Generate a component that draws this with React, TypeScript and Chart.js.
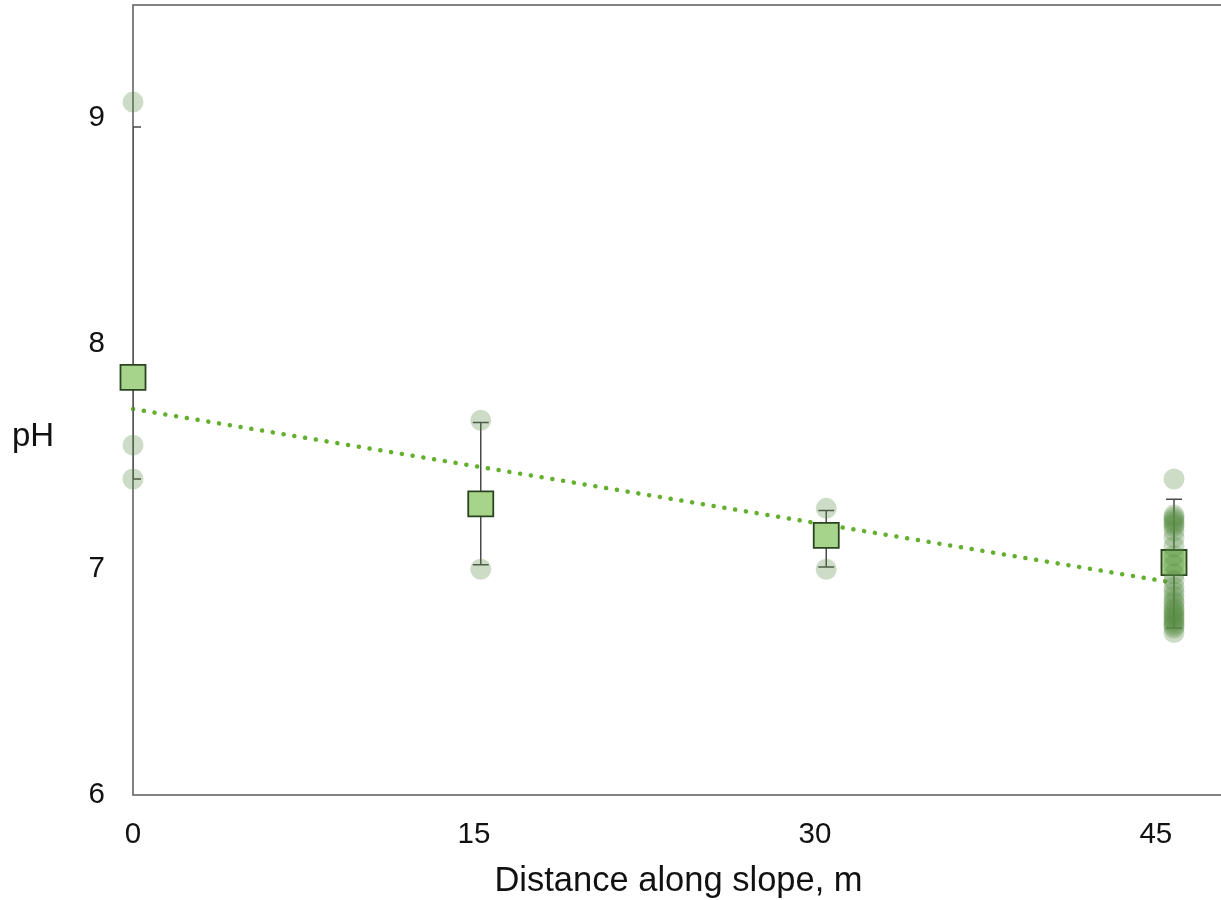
import React, { useEffect, useRef } from "react";
import { Chart, registerables } from "chart.js";

Chart.register(...registerables);

const xTicks = [0, 15, 30, 45];
const yTicks = [6, 7, 8, 9];
const groupX = [0, 15.3, 30.5, 45.8];
const groupMean = [7.85, 7.29, 7.15, 7.03];
const errLow = [7.4, 7.02, 7.01, 6.74];
const errHigh = [8.96, 7.65, 7.26, 7.31];
const raw0 = [9.07, 7.55, 7.4];
const raw15 = [7.66, 7.0];
const raw30 = [7.27, 7.0];
const raw45 = [
  7.4, 7.24, 7.23, 7.22, 7.21, 7.2, 7.19, 7.17, 7.14, 7.1, 7.06, 7.02, 6.98, 6.95, 6.92, 6.9, 6.88, 6.86,
  6.85, 6.83, 6.82, 6.81, 6.8, 6.79, 6.78, 6.77, 6.76, 6.75, 6.74, 6.72,
];
const trendX = [0, 45.8];
const trendY = [7.71, 6.94];
const xTitle = "Distance along slope, m";
const yTitle = "pH";

const FONT = "'Liberation Sans', Arial, Helvetica, sans-serif";

export default function App() {
  const ref = useRef<HTMLCanvasElement | null>(null);
  useEffect(() => {
    if (!ref.current) return;
    const rawGroups = [raw0, raw15, raw30, raw45];
    const rawPts: { x: number; y: number }[] = [];
    rawGroups.forEach((g, i) => g.forEach((v) => rawPts.push({ x: groupX[i], y: v })));

    const deco = {
      id: "deco",
      beforeDatasetDraw(chart: any, args: any) {
        if (args.index !== 2) return;
        const { ctx, chartArea, scales } = chart;
        ctx.save();
        ctx.beginPath();
        ctx.rect(chartArea.left, chartArea.top, chartArea.right - chartArea.left, chartArea.bottom - chartArea.top);
        ctx.clip();
        ctx.strokeStyle = "#4a4a4a";
        ctx.lineWidth = 1.5;
        groupX.forEach((gx, i) => {
          const px = scales.x.getPixelForValue(gx);
          const lo = scales.y.getPixelForValue(errLow[i]);
          const hi = scales.y.getPixelForValue(errHigh[i]);
          ctx.beginPath();
          ctx.moveTo(px, lo);
          ctx.lineTo(px, hi);
          ctx.moveTo(px - 8, lo);
          ctx.lineTo(px + 8, lo);
          ctx.moveTo(px - 8, hi);
          ctx.lineTo(px + 8, hi);
          ctx.stroke();
        });
        ctx.restore();
      },
      beforeDatasetsDraw(chart: any) {
        const { ctx, chartArea } = chart;
        ctx.save();
        ctx.strokeStyle = "#5a5a5a";
        ctx.lineWidth = 1.5;
        ctx.strokeRect(chartArea.left, chartArea.top, chartArea.right - chartArea.left, chartArea.bottom - chartArea.top);
        ctx.restore();
      },
      afterDraw(chart: any) {
        const { ctx, chartArea } = chart;
        ctx.save();
        ctx.fillStyle = "#111";
        ctx.textAlign = "center";
        ctx.textBaseline = "middle";
        ctx.font = `34.5px ${FONT}`;
        ctx.fillText(xTitle, (chartArea.left + chartArea.right) / 2, 881);
        ctx.font = `33px ${FONT}`;
        ctx.fillText(yTitle, 33, 437);
        ctx.restore();
      },
    };

    const zeroPad = (s: any) => {
      s.paddingTop = 0;
      s.paddingBottom = 0;
      s.paddingLeft = 0;
      s.paddingRight = 0;
    };

    const chart = new Chart(ref.current, {
      type: "scatter",
      data: {
        datasets: [
          {
            data: rawPts,
            pointRadius: 10.5,
            pointHoverRadius: 10.5,
            backgroundColor: "rgba(85,140,65,0.3)",
            borderWidth: 0,
            clip: false,
          } as any,
          {
            data: [],
            pointRadius: 0,
          } as any,
          {
            data: groupX.map((x, i) => ({ x, y: groupMean[i] })),
            pointStyle: "rect",
            pointRadius: 17.7,
            pointHoverRadius: 17.7,
            backgroundColor: "#a7d48b",
            borderColor: "#2a4420",
            borderWidth: 1.8,
            clip: false,
          } as any,
          {
            type: "line",
            data: trendX.map((x, i) => ({ x, y: trendY[i] })),
            borderColor: "#62b02e",
            borderWidth: 4.5,
            borderDash: [0.1, 10.8],
            borderCapStyle: "round",
            pointRadius: 0,
            fill: false,
            clip: false,
          } as any,
        ],
      },
      options: {
        animation: false,
        responsive: false,
        devicePixelRatio: 1,
        layout: { autoPadding: false, padding: { left: 0, top: 5, right: 6, bottom: 0 } },
        plugins: { legend: { display: false }, tooltip: { enabled: false } },
        scales: {
          x: {
            type: "linear",
            min: 0,
            max: 48,
            grid: { display: false, drawTicks: false },
            border: { display: false },
            afterBuildTicks: (s: any) => {
              s.ticks = xTicks.map((v) => ({ value: v }));
            },
            afterFit: (s: any) => {
              s.height = 105;
              zeroPad(s);
            },
            ticks: { color: "#111", font: { size: 29.5, family: FONT }, padding: 22, maxRotation: 0 },
          },
          y: {
            type: "linear",
            min: 6,
            max: 9.5,
            grid: { display: false, drawTicks: false },
            border: { display: false },
            afterBuildTicks: (s: any) => {
              s.ticks = yTicks.map((v) => ({ value: v }));
            },
            afterFit: (s: any) => {
              s.width = 133;
              zeroPad(s);
            },
            ticks: { color: "#111", font: { size: 29.5, family: FONT }, padding: 28 },
          },
        },
      } as any,
      plugins: [deco],
    });
    return () => chart.destroy();
  }, []);
  return (
    <div style={{ position: "absolute", left: 0, top: 0, width: 1221, height: 900, overflow: "hidden", background: "#fff" }}>
      <canvas ref={ref} width={1230} height={900} style={{ display: "block" }} />
    </div>
  );
}
